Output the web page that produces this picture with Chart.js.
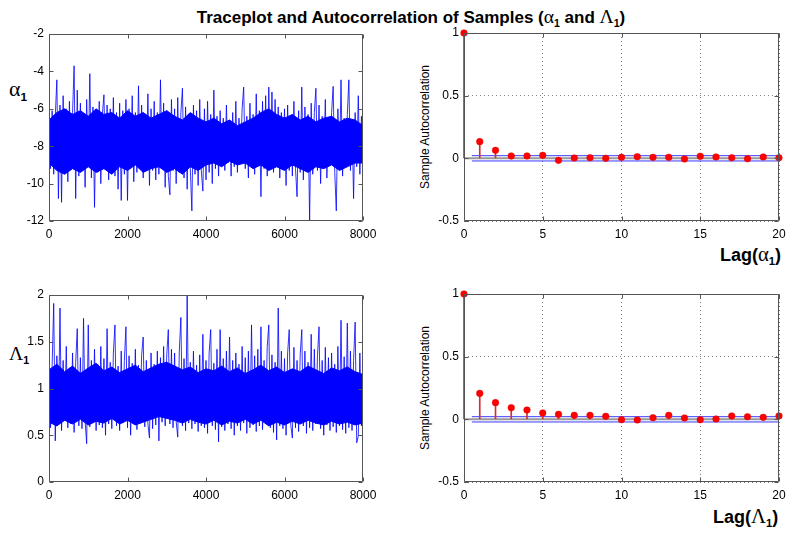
<!DOCTYPE html>
<html>
<head>
<meta charset="utf-8">
<script src="https://cdn.jsdelivr.net/npm/chart.js@4.4.1/dist/chart.umd.min.js"></script>
<style>
  body { margin:0; background:#fff; width:795px; height:540px; position:relative; overflow:hidden;
         font-family:"Liberation Sans", Arial, sans-serif; }
  canvas { position:absolute; }
  .lbl { position:absolute; white-space:nowrap; color:#000; line-height:1; }
  .gr { font-family:"Liberation Serif", "Times New Roman", serif; font-weight:normal; font-size:1.15em; }
  .lbl sub { font-family:"Liberation Sans", Arial, sans-serif; font-weight:bold; font-size:0.62em; vertical-align:-0.4em; }
</style>
</head>
<body>
<div class="lbl" style="left:411px;top:7px;transform:translateX(-50%);font-size:17px;font-weight:bold;">Traceplot and Autocorrelation of Samples (<span class="gr">α</span><sub>1</sub> and <span class="gr">Λ</span><sub>1</sub>)</div>
<div class="lbl" style="left:9px;top:79px;font-size:19px;"><span class="gr">α</span><sub>1</sub></div>
<div class="lbl" style="left:9px;top:344px;font-size:17px;"><span class="gr">Λ</span><sub>1</sub></div>
<div class="lbl" style="left:425px;top:127px;font-size:12px;transform:translate(-50%,-50%) rotate(-90deg);">Sample Autocorrelation</div>
<div class="lbl" style="left:425px;top:388px;font-size:12px;transform:translate(-50%,-50%) rotate(-90deg);">Sample Autocorrelation</div>
<div class="lbl" style="left:720px;top:244px;font-size:18px;font-weight:bold;">Lag(<span class="gr">α</span><sub>1</sub>)</div>
<div class="lbl" style="left:713px;top:506px;font-size:18px;font-weight:bold;">Lag(<span class="gr">Λ</span><sub>1</sub>)</div>

<canvas id="traceA"></canvas>
<canvas id="acfA"></canvas>
<canvas id="traceL"></canvas>
<canvas id="acfL"></canvas>

<script>
// iterations between the readings taken off the trace
const traceStep = 40;
// iterations between readings of the solid dense band
const coreStep = 200;

const alphaTrace = [
  -7.0, -9.2, -6.1, -9.5, -6.4, -4.45, -10.8, -5.8, -11.0, -5.3,
  -9.4, -6.0, -9.9, -5.6, -9.1, -6.2, -3.7, -10.8, -5.0, -9.6,
  -5.7, -9.3, -6.3, -10.2, -5.5, -9.0, -4.12, -9.7, -5.9, -11.27,
  -6.1, -9.4, -5.6, -10.0, -6.3, -5.25, -9.2, -5.8, -9.8, -6.0,
  -9.3, -5.4, -9.6, -6.2, -10.3, -5.7, -10.9, -6.1, -9.5, -5.5,
  -10.9, -6.0, -9.2, -5.3, -9.9, -6.2, -9.4, -4.77, -9.1, -5.8,
  -9.7, -6.3, -9.0, -5.2, -10.1, -6.0, -9.3, -5.6, -9.8, -6.2,
  -9.5, -4.45, -9.2, -5.7, -10.2, -6.1, -9.6, -10.6, -5.5, -9.3,
  -6.0, -10.0, -5.4, -9.4, -6.2, -4.9, -9.7, -5.9, -10.3, -6.3,
  -9.2, -11.46, -5.8, -9.5, -6.1, -10.1, -5.5, -9.3, -10.4, -6.0,
  -9.8, -5.6, -9.4, -6.3, -10.0, -5.0, -9.2, -6.4, -9.6, -6.1,
  -9.0, -6.5, -9.3, -5.8, -8.9, -6.6, -9.6, -6.2, -9.1, -5.6,
  -9.4, -6.5, -8.8, -6.0, -4.84, -9.2, -6.4, -9.7, -5.7, -9.0,
  -6.3, -9.5, -5.2, -8.9, -6.1, -10.7, -5.6, -9.2, -5.3, -9.6,
  -4.84, -9.1, -5.1, -9.4, -5.5, -8.9, -5.9, -9.7, -6.2, -9.0,
  -6.0, -10.1, -5.8, -9.3, -6.4, -9.6, -5.6, -9.2, -10.7, -6.1,
  -9.4, -4.84, -9.8, -5.9, -9.1, -6.3, -12.0, -5.7, -9.5, -6.2,
  -4.9, -9.3, -5.8, -10.0, -6.4, -9.1, -5.5, -9.7, -6.6, -9.0,
  -6.2, -4.8, -9.4, -11.46, -6.0, -9.2, -4.45, -9.6, -6.5, -8.9,
  -6.3, -4.45, -9.3, -6.6, -10.8, -6.2, -9.1, -5.3, -9.5, -6.4,
  -7.9
];
const alphaCoreHigh = [
  -6.6, -6.2, -6.0, -6.3, -6.1, -6.4, -6.0, -6.3, -6.2, -6.5,
  -6.1, -6.4, -6.2, -6.5, -6.3, -6.1, -6.4, -6.6, -6.2, -6.5,
  -6.7, -6.5, -6.8, -6.6, -6.9, -6.7, -6.5, -6.2, -6.0, -6.3,
  -6.5, -6.3, -6.6, -6.4, -6.7, -6.5, -6.4, -6.7, -6.5, -6.6,
  -6.9
];
const alphaCoreLow = [
  -8.9, -9.3, -9.5, -9.2, -9.4, -9.1, -9.4, -9.2, -9.5, -9.1,
  -9.3, -9.0, -9.4, -9.2, -9.1, -9.4, -9.2, -9.5, -9.1, -9.3,
  -9.0, -8.9, -9.1, -8.8, -9.0, -8.9, -9.2, -9.0, -9.3, -9.1,
  -9.3, -9.0, -9.2, -9.4, -9.1, -9.2, -9.0, -9.3, -9.1, -8.9,
  -8.9
];

const lambdaTrace = [
  0.95, 0.58, 1.25, 1.91, 0.44, 1.35, 0.62, 1.86, 0.55, 1.30,
  0.66, 1.45, 0.58, 1.22, 0.62, 1.38, 0.53, 1.28, 1.64, 0.60,
  1.33, 0.57, 1.75, 0.65, 0.41, 1.68, 0.59, 1.30, 0.63, 1.42,
  0.55, 1.26, 0.61, 1.45, 0.58, 1.32, 0.50, 1.64, 0.62, 1.28,
  0.57, 1.38, 1.68, 0.60, 1.24, 0.55, 1.40, 0.63, 1.30, 1.66,
  0.58, 1.35, 0.50, 1.27, 0.62, 1.42, 0.56, 1.25, 0.64, 1.36,
  1.55, 0.59, 1.30, 0.62, 0.47, 1.38, 0.57, 1.26, 0.61, 1.40,
  0.44, 1.33, 0.64, 1.45, 0.60, 1.36, 1.63, 0.62, 1.42, 0.58,
  1.38, 0.65, 0.48, 1.40, 1.76, 0.60, 1.32, 0.55, 1.99, 0.63,
  1.28, 0.57, 1.40, 0.62, 1.25, 0.54, 1.36, 0.60, 1.58, 0.58,
  1.30, 0.52, 1.38, 1.63, 0.60, 1.27, 0.56, 1.42, 0.43, 1.63,
  0.59, 1.32, 0.55, 1.40, 0.62, 1.55, 0.57, 1.30, 0.50, 1.38,
  0.60, 1.26, 0.55, 1.45, 0.63, 1.33, 0.52, 1.40, 0.58, 1.68,
  0.61, 1.35, 0.54, 1.42, 0.60, 1.66, 0.56, 1.30, 0.62, 1.45,
  1.68, 0.58, 1.36, 0.53, 1.28, 0.45, 1.86, 0.60, 1.40, 0.57,
  1.32, 0.50, 1.38, 1.63, 0.61, 0.47, 1.44, 0.58, 1.30, 0.54,
  1.36, 1.63, 0.60, 1.40, 0.52, 1.28, 0.58, 1.58, 0.55, 1.42,
  0.62, 1.35, 1.66, 0.57, 1.30, 0.50, 1.44, 0.61, 1.33, 0.55,
  1.38, 0.59, 1.26, 0.53, 1.45, 0.60, 1.73, 0.56, 1.34, 0.52,
  1.70, 0.58, 1.40, 0.55, 1.30, 1.71, 0.42, 0.49, 1.38, 0.60,
  0.85
];
const lambdaCoreHigh = [
  1.20, 1.26, 1.18, 1.24, 1.16, 1.22, 1.27, 1.19, 1.23, 1.17,
  1.21, 1.25, 1.18, 1.22, 1.26, 1.28, 1.24, 1.20, 1.23, 1.17,
  1.21, 1.19, 1.24, 1.18, 1.22, 1.16, 1.20, 1.25, 1.19, 1.23,
  1.17, 1.21, 1.18, 1.24, 1.20, 1.16, 1.22, 1.19, 1.23, 1.18,
  1.15
];
const lambdaCoreLow = [
  0.64, 0.60, 0.66, 0.62, 0.67, 0.61, 0.65, 0.63, 0.68, 0.62,
  0.66, 0.61, 0.64, 0.67, 0.70, 0.68, 0.66, 0.63, 0.67, 0.64,
  0.62, 0.66, 0.61, 0.65, 0.63, 0.67, 0.62, 0.66, 0.60, 0.64,
  0.61, 0.65, 0.62, 0.66, 0.63, 0.61, 0.65, 0.62, 0.64, 0.61,
  0.63
];

const lags = [0, 1, 2, 3, 4, 5, 6, 7, 8, 9, 10, 11, 12, 13, 14, 15, 16, 17, 18, 19, 20];
const acfAlpha = [1, 0.133, 0.064, 0.019, 0.019, 0.024, -0.016, 0.003, 0.005, 0.0, 0.008,
                  0.013, 0.008, 0.008, -0.005, 0.016, 0.011, 0.005, -0.003, 0.011, 0.005];
const acfLambda = [1, 0.207, 0.133, 0.093, 0.074, 0.051, 0.040, 0.032, 0.032, 0.024, -0.003,
                   -0.005, 0.013, 0.032, 0.011, -0.003, 0.003, 0.027, 0.021, 0.016, 0.027];
const boundAlpha = 0.021;
const boundLambda = 0.021;
const boundLags = [0.5, 20];

const traceTicksX = [0, 2000, 4000, 6000, 8000];
const alphaTicksY = [-12, -10, -8, -6, -4, -2];
const lambdaTicksY = [0, 0.5, 1, 1.5, 2];
const lagTicksX = [0, 5, 10, 15, 20];
const acfTicksY = [-0.5, 0, 0.5, 1];

Chart.defaults.font.family = '"Liberation Sans", Arial, sans-serif';
Chart.defaults.font.size = 12;
Chart.defaults.color = '#000';
Chart.defaults.animation = false;

// axes box with inward ticks on all four sides
const framePlugin = {
  id: 'frame',
  afterDatasetsDraw(chart) {
    const { ctx, chartArea: a, scales } = chart;
    const l = Math.round(a.left) + 0.5, r = Math.round(a.right) - 0.5;
    const t = Math.round(a.top) + 0.5, b = Math.round(a.bottom) - 0.5;
    ctx.save();
    ctx.strokeStyle = '#555';
    ctx.lineWidth = 1;
    ctx.beginPath();
    ctx.rect(l, t, r - l, b - t);
    scales.x.ticks.forEach(tk => {
      const px = Math.round(scales.x.getPixelForValue(tk.value)) + 0.5;
      ctx.moveTo(px, b); ctx.lineTo(px, b - 4);
      ctx.moveTo(px, t); ctx.lineTo(px, t + 4);
    });
    scales.y.ticks.forEach(tk => {
      const py = Math.round(scales.y.getPixelForValue(tk.value)) + 0.5;
      ctx.moveTo(l, py); ctx.lineTo(l + 4, py);
      ctx.moveTo(r, py); ctx.lineTo(r - 4, py);
    });
    ctx.stroke();
    ctx.restore();
  }
};

function place(id, L, T, W, H) {
  const c = document.getElementById(id);
  c.width = W + 75; c.height = H + 45;
  c.style.left = (L - 50) + 'px';
  c.style.top = (T - 15) + 'px';
  return c;
}

function axis(min, max, ticks, isX, grid) {
  return {
    type: 'linear', min, max, offset: false,
    afterBuildTicks: s => { s.ticks = ticks.map(v => ({ value: v })); },
    afterFit: s => { if (isX) s.height = 30; else s.width = 50; },
    ticks: { padding: isX ? 6 : 5, maxRotation: 0, autoSkip: false, callback: v => String(v) },
    grid: grid ? { display: true, offset: false, color: '#808080', lineWidth: 1, drawTicks: false }
               : { display: false, drawTicks: false },
    border: grid ? { display: false, dash: [1, 3] } : { display: false }
  };
}

function traceChart(id, rect, values, coreHigh, coreLow, yMin, yMax, yTicks) {
  new Chart(place(id, ...rect), {
    type: 'line',
    data: {
      datasets: [
        { data: coreHigh.map((v, i) => ({ x: i * coreStep, y: v })), fill: '+1',
          backgroundColor: '#0000ff', borderColor: '#0000ff', borderWidth: 1, pointRadius: 0, order: 1 },
        { data: coreLow.map((v, i) => ({ x: i * coreStep, y: v })),
          borderColor: '#0000ff', borderWidth: 1, pointRadius: 0, order: 1 },
        { data: values.map((v, i) => ({ x: i * traceStep, y: v })),
          borderColor: 'rgba(0,0,255,0.8)', borderWidth: 1, pointRadius: 0, order: 0 }
      ]
    },
    options: {
      responsive: false, devicePixelRatio: 1,
      elements: { line: { tension: 0 } },
      layout: { padding: { top: 15, right: 25, left: 0, bottom: 0 } },
      plugins: { legend: { display: false }, tooltip: { enabled: false } },
      scales: {
        x: axis(0, 8000, traceTicksX, true, false),
        y: axis(yMin, yMax, yTicks, false, false)
      }
    },
    plugins: [framePlugin]
  });
}

function acfChart(id, rect, acf, bound) {
  new Chart(place(id, ...rect), {
    type: 'bar',
    data: {
      datasets: [
        { type: 'scatter', order: 0, clip: false, data: lags.map((l, i) => ({ x: l, y: acf[i] })),
          pointRadius: 3.3, pointBackgroundColor: '#ff0000', pointBorderColor: '#e00000', pointBorderWidth: 0.5 },
        { type: 'bar', order: 1, clip: false, data: lags.map((l, i) => ({ x: l, y: acf[i] })),
          backgroundColor: '#d23030', barThickness: 1 },
        { type: 'line', order: 2, data: boundLags.map(l => ({ x: l, y: bound })),
          borderColor: '#3a3aff', borderWidth: 1, pointRadius: 0 },
        { type: 'line', order: 2, data: boundLags.map(l => ({ x: l, y: -bound })),
          borderColor: '#3a3aff', borderWidth: 1, pointRadius: 0 },
        { type: 'line', order: 3, data: [{ x: lagTicksX[0], y: 0 }, { x: lagTicksX[lagTicksX.length - 1], y: 0 }],
          borderColor: '#999', borderWidth: 2, pointRadius: 0 }
      ]
    },
    options: {
      responsive: false, devicePixelRatio: 1,
      layout: { padding: { top: 15, right: 25, left: 0, bottom: 0 } },
      plugins: { legend: { display: false }, tooltip: { enabled: false } },
      scales: {
        x: axis(0, 20, lagTicksX, true, true),
        y: axis(-0.5, 1, acfTicksY, false, true)
      }
    },
    plugins: [framePlugin]
  });
}

traceChart('traceA', [49, 34, 314, 187], alphaTrace, alphaCoreHigh, alphaCoreLow, -12, -2, alphaTicksY);
acfChart('acfA', [464, 33, 315, 188], acfAlpha, boundAlpha);
traceChart('traceL', [49, 295, 314, 187], lambdaTrace, lambdaCoreHigh, lambdaCoreLow, 0, 2, lambdaTicksY);
acfChart('acfL', [464, 294, 315, 188], acfLambda, boundLambda);
</script>
</body>
</html>
